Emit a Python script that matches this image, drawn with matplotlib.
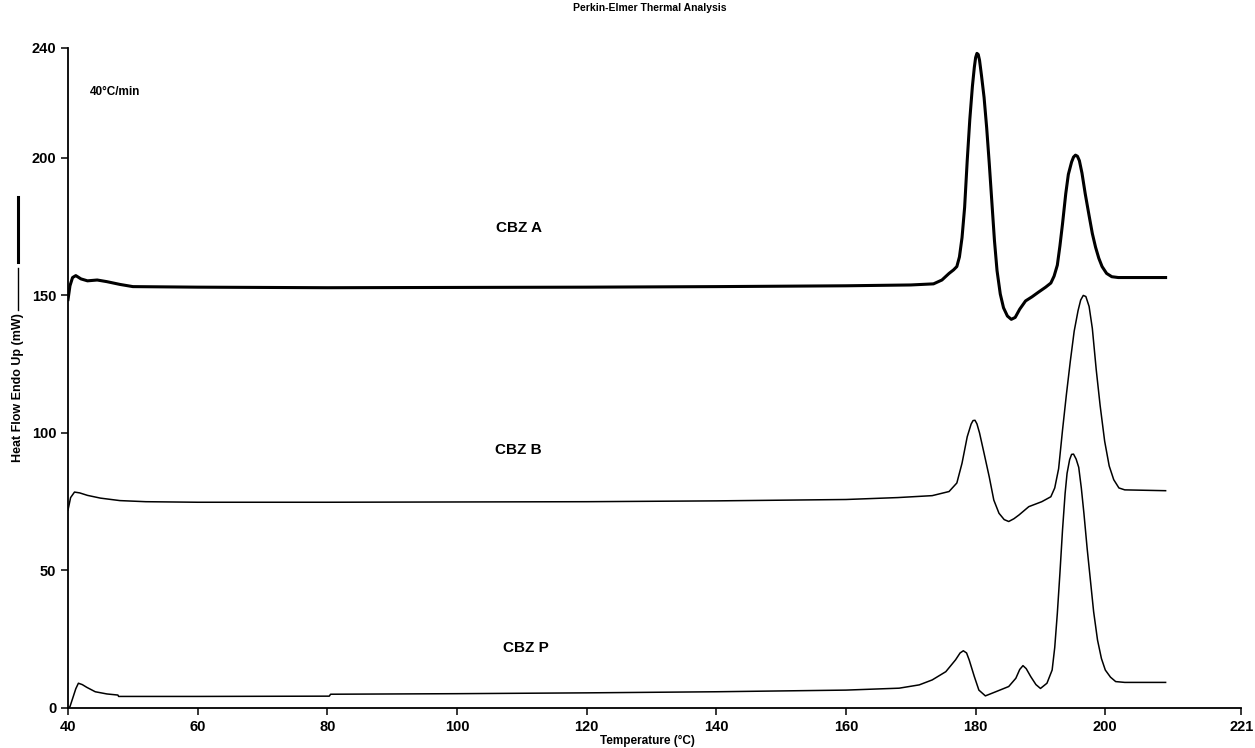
import matplotlib.pyplot as plt
from matplotlib.lines import Line2D

# Temperature (C) / heat flow (mW)
temp_a = [40.0, 40.3, 40.7, 41.2, 42.0, 43.0, 44.5, 46.0, 48.0, 50.0, 60, 80, 100, 120, 140, 160, 170,
          173.5, 174.8, 175.9, 176.6, 177.1, 177.5, 177.9, 178.3, 178.7, 179.1, 179.5, 179.8, 180.0,
          180.2, 180.4, 180.6, 180.9, 181.3, 181.7, 182.1, 182.5, 182.9, 183.3, 183.8, 184.3, 184.9,
          185.5, 186.1, 186.8, 187.7, 188.7, 189.7, 190.8, 191.6, 192.1, 192.6, 193.0, 193.4, 193.9,
          194.3, 194.8, 195.1, 195.4, 195.7, 196.0, 196.4, 196.9, 197.5, 198.0, 198.5, 199.0, 199.5,
          200.2, 201.0, 202.0, 209.3]
flow_a = [148.5, 153.5, 156.5, 157.2, 156.0, 155.3, 155.6, 155.0, 154.0, 153.2, 153.0, 152.8, 152.9,
          153.0, 153.2, 153.5, 153.8, 154.2, 155.6, 158.0, 159.3, 160.5, 164, 171, 182, 199, 214, 226,
          233, 236.5, 238.0, 237.6, 235.5, 230, 222, 211, 198, 184, 170, 159, 150.5, 145.5, 142.5,
          141.3, 142.0, 145.0, 148.0, 149.5, 151.2, 153.0, 154.5, 157, 161, 168, 176, 187, 194, 198.5,
          200.3, 201.0, 200.6, 199.0, 194.5, 187, 179, 172.5, 167.5, 163.5, 160.5, 158.0, 156.8,
          156.5, 156.5]

temp_b = [40.0, 40.4, 41.0, 41.8, 43, 45, 48, 52, 60, 80, 100, 120, 140, 160, 168, 173.3, 175.9,
          177.1, 177.9, 178.7, 179.3, 179.6, 179.9, 180.2, 180.6, 181.3, 182.1, 182.8, 183.6, 184.4,
          185.1, 185.9, 186.7, 188.2, 190.2, 191.6, 192.2, 192.8, 193.4, 194.0, 194.6, 195.2, 195.8,
          196.2, 196.6, 197.0, 197.5, 198.0, 198.6, 199.2, 199.9, 200.6, 201.3, 202.1, 203.0, 209.3]
flow_b = [72, 76.5, 78.5, 78.2, 77.3, 76.3, 75.4, 75.0, 74.8, 74.8, 74.9, 75.0, 75.3, 75.8, 76.5,
          77.2, 78.7, 81.8, 89, 98.6, 103.2, 104.5, 104.6, 103.3, 100, 92.6, 84, 75.6, 70.8, 68.5,
          67.8, 68.8, 70.2, 73.2, 75.0, 76.8, 80, 87, 101, 114, 126, 137, 144.5, 148.3, 150, 149.6,
          146, 138, 123, 110, 97, 88, 83, 80, 79.3, 79.0]

temp_p = [40.0, 40.3, 40.8, 41.2, 41.6, 42.2, 42.9, 44.2, 46.0, 47.7, 47.8, 60, 80.3, 80.5, 100,
          120, 140, 160, 168.2, 171.3, 173.3, 175.4, 176.9, 177.6, 178.1, 178.6, 179.0, 179.8, 180.5,
          181.5, 183.1, 185.1, 186.2, 186.8, 187.3, 187.8, 188.5, 189.3, 190.0, 191.0, 191.8, 192.2,
          192.6, 193.0, 193.4, 193.8, 194.1, 194.5, 194.8, 195.1, 195.5, 195.9, 196.3, 196.7, 197.2,
          197.7, 198.2, 198.8, 199.4, 200.0, 200.8, 201.6, 203.0, 209.3]
flow_p = [0.0, 0.5, 4.1, 7.0, 9.0, 8.5, 7.5, 5.9, 5.1, 4.7, 4.2, 4.2, 4.3, 5.0, 5.2, 5.5, 5.9, 6.5,
          7.2, 8.4, 10.2, 13.2, 17.5, 20.0, 20.8, 20.0, 17.5, 11.4, 6.5, 4.4, 5.9, 7.8, 10.8, 14.0,
          15.4, 14.3, 11.4, 8.5, 7.1, 9.0, 13.8, 22, 34.4, 49, 64.7, 78, 85.3, 90.3, 92.2, 92.3, 90.5,
          87.5, 80, 70.8, 58, 46.5, 35, 24.7, 18, 13.8, 11.2, 9.6, 9.3, 9.3]

x_ticks = [40, 60, 80, 100, 120, 140, 160, 180, 200, 221]
y_ticks = [0, 50, 100, 150, 200, 240]

plt.rcParams['font.family'] = ['Liberation Sans', 'DejaVu Sans']

fig = plt.figure(figsize=(12.55, 7.48), dpi=100)
ax = fig.add_axes([0.0542, 0.0535, 0.935, 0.8825])

ax.plot(temp_a, flow_a, color='black', lw=2.2, solid_joinstyle='round')
ax.plot(temp_b, flow_b, color='black', lw=1.1, solid_joinstyle='round')
ax.plot(temp_p, flow_p, color='black', lw=1.1, solid_joinstyle='round')

ax.set_xlim(40, 221)
ax.set_ylim(0, 240)
ax.set_xticks(x_ticks)
ax.set_yticks(y_ticks)
for side in ['top', 'right']:
    ax.spines[side].set_visible(False)
ax.spines['left'].set_linewidth(1.3)
ax.spines['bottom'].set_linewidth(1.3)
ax.tick_params(direction='out', length=5, width=1.1, labelsize=10.5)
for lab in ax.get_xticklabels() + ax.get_yticklabels():
    lab.set_fontweight('bold')

# curve labels
ax.text(109.6, 174.5, 'CBZ A', ha='center', va='center', fontsize=11, fontweight='bold')
ax.text(109.4, 93.8, 'CBZ B', ha='center', va='center', fontsize=11, fontweight='bold')
ax.text(110.7, 21.8, 'CBZ P', ha='center', va='center', fontsize=11, fontweight='bold')
ax.text(43.4, 224, '40°C/min', ha='left', va='center', fontsize=8.5, fontweight='bold')

fig.text(0.518, 0.989, 'Perkin-Elmer Thermal Analysis', ha='center', va='center',
         fontsize=7.5, fontweight='bold')
fig.text(0.516, 0.009, 'Temperature (°C)', ha='center', va='center', fontsize=8.5,
         fontweight='bold')
fig.text(0.0145, 1 - 388 / 748, 'Heat Flow Endo Up (mW)', ha='center', va='center', rotation=90,
         fontsize=9, fontweight='bold')

# line samples next to the y label
fig.add_artist(Line2D([0.0145, 0.0145], [1 - 310 / 748, 1 - 268 / 748], color='black', lw=1.0))
fig.add_artist(Line2D([0.0145, 0.0145], [1 - 262 / 748, 1 - 197 / 748], color='black', lw=2.2))

fig.savefig('out.png', dpi=100)
